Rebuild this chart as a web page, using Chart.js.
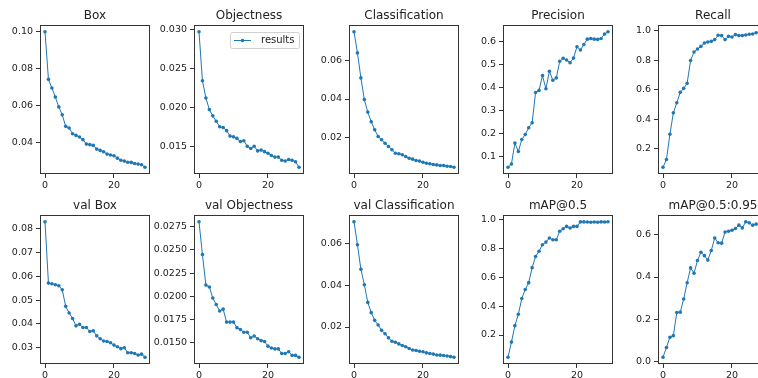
<!DOCTYPE html>
<html>
<head>
<meta charset="utf-8">
<script src="https://cdn.jsdelivr.net/npm/chart.js@4.4.0/dist/chart.umd.min.js"></script>
<style>
  html, body { margin: 0; padding: 0; background: #fff; }
  body { width: 758px; height: 378px; overflow: hidden; position: relative; }
  canvas { position: absolute; }
</style>
</head>
<body>
<script>
// epochs 0..29
const epochs = [0, 1, 2, 3, 4, 5, 6, 7, 8, 9, 10, 11, 12, 13, 14, 15, 16, 17, 18, 19, 20, 21, 22, 23, 24, 25, 26, 27, 28, 29];

const boxLoss = [0.0998, 0.0741, 0.0694, 0.0645, 0.0592, 0.0549, 0.0487, 0.0478, 0.0447, 0.0438,
  0.0429, 0.0415, 0.0391, 0.0388, 0.0384, 0.0364, 0.0357, 0.0350, 0.0337, 0.0332,
  0.0328, 0.0315, 0.0304, 0.0299, 0.0293, 0.0292, 0.0286, 0.0283, 0.0279, 0.0266];
const objLoss = [0.0297, 0.0234, 0.0212, 0.0197, 0.0189, 0.0182, 0.0175, 0.0174, 0.0170, 0.0163,
  0.0162, 0.0160, 0.0156, 0.0157, 0.0150, 0.0147, 0.0150, 0.0144, 0.0145, 0.0143,
  0.0141, 0.0138, 0.0136, 0.0136, 0.0132, 0.0131, 0.0133, 0.0132, 0.0130, 0.0123];
const clsLoss = [0.0750, 0.0640, 0.0510, 0.0397, 0.0332, 0.0282, 0.0240, 0.0205, 0.0188, 0.0170,
  0.0153, 0.0136, 0.0118, 0.0115, 0.0110, 0.0101, 0.0092, 0.0087, 0.0080, 0.0077,
  0.0071, 0.0066, 0.0063, 0.0059, 0.0057, 0.0054, 0.0054, 0.0050, 0.0049, 0.0045];
const precision = [0.055, 0.069, 0.160, 0.123, 0.175, 0.197, 0.226, 0.248, 0.379, 0.388,
  0.452, 0.395, 0.471, 0.432, 0.442, 0.514, 0.527, 0.520, 0.508, 0.528,
  0.577, 0.563, 0.587, 0.610, 0.613, 0.610, 0.609, 0.613, 0.632, 0.642];
const recall = [0.075, 0.127, 0.298, 0.443, 0.511, 0.582, 0.609, 0.643, 0.798, 0.855,
  0.875, 0.893, 0.916, 0.923, 0.927, 0.939, 0.968, 0.966, 0.939, 0.961,
  0.957, 0.973, 0.966, 0.966, 0.970, 0.975, 0.977, 0.985, 0.988, 0.992];
const valBox = [0.0830, 0.0572, 0.0569, 0.0565, 0.0561, 0.0544, 0.0474, 0.0446, 0.0423, 0.0392,
  0.0399, 0.0385, 0.0385, 0.0368, 0.0371, 0.0350, 0.0338, 0.0328, 0.0326, 0.0321,
  0.0311, 0.0304, 0.0296, 0.0300, 0.0279, 0.0279, 0.0276, 0.0269, 0.0273, 0.0260];
const valObj = [0.02805, 0.0245, 0.0212, 0.0210, 0.0198, 0.0191, 0.0184, 0.0186, 0.0172, 0.0172,
  0.0172, 0.0166, 0.0164, 0.0161, 0.0161, 0.0155, 0.0157, 0.0154, 0.0152, 0.0151,
  0.0146, 0.0144, 0.0143, 0.0143, 0.0138, 0.0138, 0.0140, 0.0136, 0.0136, 0.0134];
const valCls = [0.0705, 0.0595, 0.0477, 0.0403, 0.0318, 0.0269, 0.0232, 0.0210, 0.0184, 0.0168,
  0.0148, 0.0132, 0.0127, 0.0119, 0.0111, 0.0105, 0.0097, 0.0090, 0.0087, 0.0084,
  0.0081, 0.0076, 0.0073, 0.0070, 0.0066, 0.0065, 0.0063, 0.0061, 0.0058, 0.0055];
const map50 = [0.046, 0.151, 0.265, 0.344, 0.453, 0.516, 0.563, 0.667, 0.744, 0.781,
  0.826, 0.844, 0.872, 0.860, 0.860, 0.919, 0.937, 0.953, 0.942, 0.953,
  0.953, 0.984, 0.984, 0.983, 0.982, 0.983, 0.982, 0.984, 0.983, 0.985];
const map5095 = [0.021, 0.067, 0.115, 0.123, 0.232, 0.234, 0.296, 0.373, 0.443, 0.418,
  0.478, 0.517, 0.501, 0.480, 0.525, 0.584, 0.562, 0.560, 0.613, 0.616,
  0.621, 0.629, 0.645, 0.632, 0.661, 0.656, 0.645, 0.650, 0.648, 0.660];

// tick values and labels
const xTicks = [0, 20];
const boxTicks = [0.04, 0.06, 0.08, 0.10];
const boxTickLabels = ["0.04", "0.06", "0.08", "0.10"];
const objTicks = [0.015, 0.020, 0.025, 0.030];
const objTickLabels = ["0.015", "0.020", "0.025", "0.030"];
const clsTicks = [0.02, 0.04, 0.06];
const clsTickLabels = ["0.02", "0.04", "0.06"];
const precTicks = [0.1, 0.2, 0.3, 0.4, 0.5, 0.6];
const precTickLabels = ["0.1", "0.2", "0.3", "0.4", "0.5", "0.6"];
const recTicks = [0.2, 0.4, 0.6, 0.8, 1.0];
const recTickLabels = ["0.2", "0.4", "0.6", "0.8", "1.0"];
const valBoxTicks = [0.03, 0.04, 0.05, 0.06, 0.07, 0.08];
const valBoxTickLabels = ["0.03", "0.04", "0.05", "0.06", "0.07", "0.08"];
const valObjTicks = [0.0150, 0.0175, 0.0200, 0.0225, 0.0250, 0.0275];
const valObjTickLabels = ["0.0150", "0.0175", "0.0200", "0.0225", "0.0250", "0.0275"];
const valClsTicks = [0.02, 0.04, 0.06];
const valClsTickLabels = ["0.02", "0.04", "0.06"];
const map50Ticks = [0.2, 0.4, 0.6, 0.8, 1.0];
const map50TickLabels = ["0.2", "0.4", "0.6", "0.8", "1.0"];
const map5095Ticks = [0.0, 0.2, 0.4, 0.6];
const map5095TickLabels = ["0.0", "0.2", "0.4", "0.6"];

const panels = [
  { title: "Box", values: boxLoss, ticks: boxTicks, labels: boxTickLabels },
  { title: "Objectness", values: objLoss, ticks: objTicks, labels: objTickLabels, legend: true },
  { title: "Classification", values: clsLoss, ticks: clsTicks, labels: clsTickLabels },
  { title: "Precision", values: precision, ticks: precTicks, labels: precTickLabels },
  { title: "Recall", values: recall, ticks: recTicks, labels: recTickLabels },
  { title: "val Box", values: valBox, ticks: valBoxTicks, labels: valBoxTickLabels },
  { title: "val Objectness", values: valObj, ticks: valObjTicks, labels: valObjTickLabels },
  { title: "val Classification", values: valCls, ticks: valClsTicks, labels: valClsTickLabels },
  { title: "mAP@0.5", values: map50, ticks: map50Ticks, labels: map50TickLabels },
  { title: "mAP@0.5:0.95", values: map5095, ticks: map5095Ticks, labels: map5095TickLabels }
];

const blue = "#1f77b4";
const ink = "#222";
const spine = "#333";
const font = "DejaVu Sans";

const colLeft = [40, 194, 349, 503, 658];
const rowTop = [25, 215];
const plotW = 110, plotH = 149;
const yAxisW = 40, titleH = 20, xAxisH = 22, padR = 4;

// box round the plot area, like matplotlib spines
const frame = {
  id: "frame",
  afterDraw(chart) {
    const a = chart.chartArea, ctx = chart.ctx;
    ctx.save();
    ctx.strokeStyle = spine;
    ctx.lineWidth = 1;
    ctx.strokeRect(a.left + 0.5, a.top + 0.5, a.width - 1, a.height - 1);
    ctx.restore();
  }
};

// small legend inside the axes, upper right
const innerLegend = {
  id: "innerLegend",
  afterDraw(chart) {
    const a = chart.chartArea, ctx = chart.ctx;
    const bw = 69, bh = 16;
    const x = a.right - 5 - bw, y = a.top + 7;
    ctx.save();
    ctx.fillStyle = "rgba(255,255,255,0.8)";
    ctx.strokeStyle = "#d0d0d0";
    ctx.lineWidth = 1;
    ctx.beginPath();
    ctx.roundRect(x + 0.5, y + 0.5, bw, bh, 2);
    ctx.fill();
    ctx.stroke();
    const cy = y + bh / 2 + 0.5;
    ctx.strokeStyle = blue;
    ctx.beginPath();
    ctx.moveTo(x + 4, cy);
    ctx.lineTo(x + 21, cy);
    ctx.stroke();
    ctx.fillStyle = blue;
    ctx.beginPath();
    ctx.arc(x + 12.5, cy, 1.8, 0, Math.PI * 2);
    ctx.fill();
    ctx.fillStyle = ink;
    ctx.font = "10px '" + font + "'";
    ctx.textBaseline = "middle";
    ctx.fillText(chart.data.datasets[0].label, x + 31, cy);
    ctx.restore();
  }
};

panels.forEach((p, i) => {
  const col = i % 5, row = Math.floor(i / 5);
  const w = yAxisW + plotW + padR, h = titleH + plotH + xAxisH;
  const canvas = document.createElement("canvas");
  canvas.width = w;
  canvas.height = h;
  canvas.style.left = (colLeft[col] - yAxisW) + "px";
  canvas.style.top = (rowTop[row] - titleH) + "px";
  canvas.style.width = w + "px";
  canvas.style.height = h + "px";
  document.body.appendChild(canvas);

  const lo = Math.min(...p.values), hi = Math.max(...p.values);
  const m = (hi - lo) * 0.05;
  const xm = (epochs[epochs.length - 1] - epochs[0]) * 0.05;

  new Chart(canvas, {
    type: "line",
    data: {
      datasets: [{
        label: "results",
        data: epochs.map((e, k) => ({ x: e, y: p.values[k] })),
        borderColor: blue,
        borderWidth: 1,
        backgroundColor: blue,
        pointBackgroundColor: blue,
        pointBorderWidth: 0,
        pointRadius: 1.8,
        tension: 0,
        fill: false
      }]
    },
    options: {
      responsive: false,
      animation: false,
      devicePixelRatio: 1,
      layout: { padding: { left: 0, right: padR, top: 0, bottom: 0 } },
      plugins: {
        legend: { display: false },
        tooltip: { enabled: false },
        title: {
          display: true,
          text: p.title,
          fullSize: false,
          color: ink,
          font: { family: font, size: 12, weight: "normal" },
          padding: { top: 4, bottom: titleH - 4 - 14.4 }
        }
      },
      scales: {
        x: {
          type: "linear",
          min: epochs[0] - xm,
          max: epochs[epochs.length - 1] + xm,
          afterBuildTicks: s => { s.ticks = xTicks.map(v => ({ value: v })); },
          afterFit: s => { s.height = xAxisH; },
          ticks: {
            autoSkip: false,
            maxRotation: 0,
            color: ink,
            padding: 2,
            font: { family: font, size: 9.5 },
            callback: v => String(v)
          },
          grid: { drawOnChartArea: false, tickLength: 4, color: spine },
          border: { display: false }
        },
        y: {
          type: "linear",
          min: lo - m,
          max: hi + m,
          afterBuildTicks: s => { s.ticks = p.ticks.map(v => ({ value: v })); },
          afterFit: s => { s.width = yAxisW; },
          ticks: {
            autoSkip: false,
            color: ink,
            padding: 3,
            font: { family: font, size: 9.5 },
            callback: v => {
              const k = p.ticks.findIndex(t => Math.abs(t - v) < 1e-9);
              return k >= 0 ? p.labels[k] : "";
            }
          },
          grid: { drawOnChartArea: false, tickLength: 4, color: spine },
          border: { display: false }
        }
      }
    },
    plugins: p.legend ? [frame, innerLegend] : [frame]
  });
});
</script>
</body>
</html>
